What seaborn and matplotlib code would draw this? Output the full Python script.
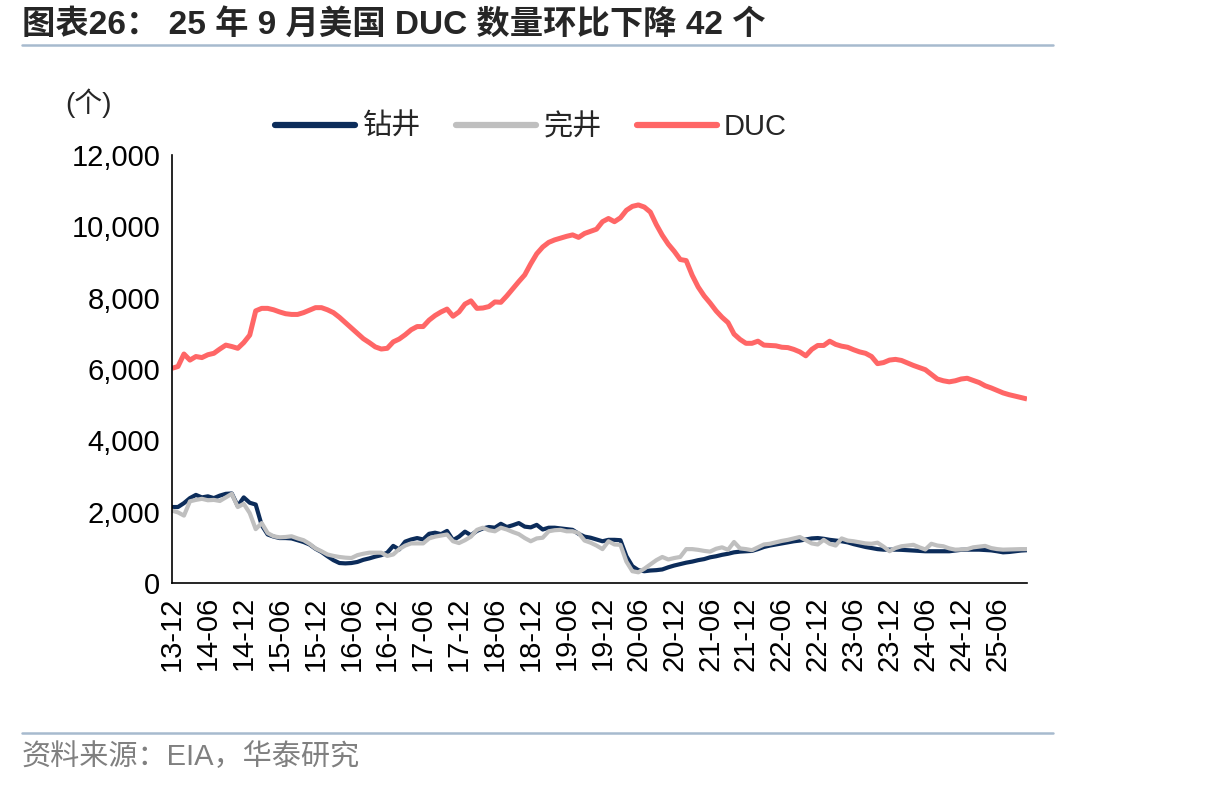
import numpy as np
import pandas as pd
import matplotlib
matplotlib.use("Agg")
import matplotlib.pyplot as plt
import seaborn as sns
from matplotlib.lines import Line2D

# ---------------- data ----------------
tick_labels = ["13-12", "14-06", "14-12", "15-06", "15-12", "16-06", "16-12",
               "17-06", "17-12", "18-06", "18-12", "19-06", "19-12", "20-06",
               "20-12", "21-06", "21-12", "22-06", "22-12", "23-06", "23-12",
               "24-06", "24-12", "25-06"]

drilled = [2130, 2130, 2240, 2380, 2470, 2400, 2430, 2380, 2450, 2500, 2510, 2160,
           2400, 2250, 2200, 1620, 1360, 1300, 1260, 1260, 1250, 1200, 1150, 1080,
           960, 870, 750, 640, 560, 550, 560, 590, 650, 690, 740, 780,
           850, 1040, 940, 1160, 1220, 1260, 1220, 1380, 1410, 1370, 1460, 1200,
           1300, 1440, 1340, 1460, 1530, 1570, 1550, 1660, 1570, 1620, 1680, 1580,
           1560, 1630, 1500, 1550, 1550, 1530, 1510, 1490, 1380, 1300, 1270, 1220,
           1170, 1210, 1210, 1200, 750, 470, 360, 330, 350, 360, 380, 440,
           490, 530, 570, 600, 640, 670, 720, 750, 790, 820, 860, 880,
           890, 900, 950, 1010, 1050, 1080, 1110, 1140, 1170, 1190, 1220, 1250,
           1260, 1240, 1210, 1190, 1170, 1140, 1090, 1050, 1010, 980, 950, 935,
           935, 935, 930, 920, 910, 900, 890, 890, 890, 890, 890, 910,
           930, 935, 935, 935, 925, 915, 890, 860, 870, 890, 910, 920]

completed = [2030, 1980, 1890, 2290, 2330, 2360, 2320, 2330, 2300, 2400, 2500, 2130,
             2220, 1960, 1510, 1680, 1400, 1310, 1280, 1290, 1310, 1250, 1200, 1100,
             970, 890, 800, 760, 730, 710, 700, 780, 820, 850, 850, 850,
             760, 800, 950, 1050, 1110, 1110, 1110, 1250, 1300, 1330, 1360, 1170,
             1120, 1200, 1300, 1490, 1550, 1480, 1450, 1550, 1500, 1430, 1370, 1260,
             1170, 1250, 1270, 1450, 1480, 1490, 1450, 1450, 1400, 1190, 1130, 1050,
             950, 1170, 1080, 1070, 600, 330, 300, 400, 520, 640, 730, 660,
             700, 730, 950, 950, 930, 900, 880, 960, 1000, 930, 1150, 970,
             950, 920, 1000, 1080, 1100, 1140, 1180, 1210, 1250, 1290, 1200, 1110,
             1080, 1210, 1100, 1050, 1250, 1190, 1170, 1140, 1110, 1100, 1130, 1020,
             890, 980, 1030, 1050, 1070, 1000, 940, 1100, 1050, 1030, 970, 935,
             940, 950, 1000, 1020, 1040, 980, 950, 935, 940, 945, 950, 950]

duc = [6020, 6070, 6420, 6250, 6350, 6320, 6400, 6440, 6560, 6670, 6630, 6580,
       6740, 6950, 7630, 7700, 7700, 7660, 7600, 7550, 7530, 7530, 7580, 7650,
       7720, 7720, 7660, 7580, 7450, 7300, 7150, 7000, 6850, 6740, 6620, 6560,
       6580, 6760, 6840, 6960, 7100, 7190, 7190, 7370, 7500, 7600, 7680, 7480,
       7600, 7820, 7910, 7700, 7710, 7750, 7880, 7870, 8050, 8250, 8450, 8640,
       8950, 9230, 9420, 9550, 9620, 9670, 9720, 9760, 9690, 9800, 9860, 9920,
       10130, 10220, 10130, 10240, 10450, 10560, 10600, 10540, 10400, 10050, 9750, 9500,
       9300, 9070, 9040, 8630, 8300, 8050, 7850, 7630, 7450, 7300, 6980, 6830,
       6720, 6720, 6780, 6670, 6660, 6650, 6610, 6600, 6550, 6480, 6370, 6550,
       6660, 6660, 6780, 6690, 6640, 6610, 6540, 6480, 6440, 6350, 6150, 6180,
       6250, 6270, 6240, 6170, 6100, 6040, 5980, 5850, 5720, 5670, 5640, 5670,
       5720, 5740, 5680, 5620, 5530, 5470, 5400, 5330, 5280, 5240, 5200, 5160]

series_names = ["钻井", "完井", "DUC"]
colors = ["#0C2C5A", "#BFBFBF", "#FF6666"]
widths = [3.0, 3.0, 3.6]

# ---------------- figure ----------------
sns.set_theme(style="white")
plt.rcParams["font.family"] = ["Liberation Sans", "Noto Sans CJK SC", "DejaVu Sans"]

n = len(duc)
df = pd.DataFrame({"idx": np.arange(n), "钻井": drilled, "完井": completed, "DUC": duc})

W, H = 1206, 787
fig = plt.figure(figsize=(W / 100, H / 100), dpi=100)
fig.patch.set_facecolor("white")
ax = fig.add_axes([172 / W, 1 - 583 / H, 855 / W, 428 / H])

for name, c, lw in zip(series_names, colors, widths):
    sns.lineplot(data=df, x="idx", y=name, ax=ax, color=c, linewidth=lw,
                 solid_joinstyle="round", solid_capstyle="butt")

ax.set_xlim(0, n - 1)
ax.set_ylim(0, 12000)
ax.set_yticks(range(0, 12001, 2000))
ax.set_yticklabels([f"{v:,}" for v in range(0, 12001, 2000)])
ax.set_xticks(range(0, 6 * len(tick_labels), 6))
ax.set_xticklabels(tick_labels, rotation=90)
ax.set_xlabel("")
ax.set_ylabel("")

for s in ["top", "right"]:
    ax.spines[s].set_visible(False)
for s in ["left", "bottom"]:
    ax.spines[s].set_color("black")
    ax.spines[s].set_linewidth(1.2)

ax.tick_params(axis="both", which="major", direction="out", length=6.5, width=1.1,
               color="black", labelsize=21, labelcolor="black")
ax.tick_params(axis="y", pad=2)
ax.tick_params(axis="x", pad=3)
ax.grid(False)

# legend
handles = [Line2D([0], [0], color=c, lw=4.5) for c in colors]
fig.legend(handles, series_names, loc="center", bbox_to_anchor=(531 / W, 1 - 127 / H),
           ncol=3, frameon=False, fontsize=21, handlelength=2.75, handletextpad=0.25,
           columnspacing=1.2)

# texts
fig.text(22 / W, 1 - 25 / H, "图表26： 25 年 9 月美国 DUC 数量环比下降 42 个",
         fontsize=24, fontweight="bold", ha="left", va="center")
fig.text(65 / W, 1 - 103 / H, "(个)", fontsize=20, ha="left", va="center")
fig.text(22 / W, 1 - 757 / H, "资料来源：EIA，华泰研究", fontsize=21, color="#808080",
         ha="left", va="center")

for yy in (45, 733):
    fig.add_artist(Line2D([22 / W, 1053 / W], [1 - yy / H, 1 - yy / H],
                          color="#A7BACE", lw=1.8, transform=fig.transFigure))

fig.savefig("out.png", dpi=100, facecolor="white")
